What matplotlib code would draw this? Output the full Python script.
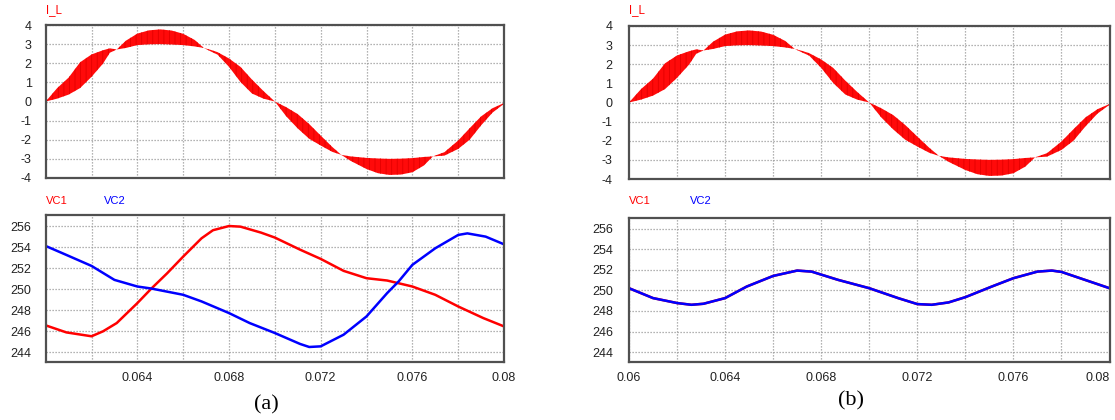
import numpy as np
import matplotlib
matplotlib.use("Agg")
import matplotlib.pyplot as plt

plt.rcParams['font.family'] = ['Liberation Sans', 'DejaVu Sans']
plt.rcParams['axes.unicode_minus'] = False
plt.rcParams['hatch.linewidth'] = 0.6

# ---------------- data ----------------
# Inductor current ripple band (upper / lower envelopes)
t_il = [0.0600, 0.0605, 0.0610, 0.0615, 0.0620, 0.0625, 0.0628, 0.0631, 0.0635,
        0.0640, 0.0645, 0.0650, 0.0655, 0.0660, 0.0665, 0.0669, 0.0672, 0.0675,
        0.0680, 0.0685, 0.0690, 0.0695, 0.0700, 0.0705, 0.0710, 0.0715, 0.0720,
        0.0725, 0.0729, 0.0733, 0.0740, 0.0745, 0.0750, 0.0755, 0.0760, 0.0765,
        0.0769, 0.0774, 0.0780, 0.0785, 0.0790, 0.0795, 0.0800]
il_upper = [0.00, 0.70, 1.25, 2.05, 2.46, 2.68, 2.78, 2.72, 3.18,
            3.55, 3.72, 3.77, 3.71, 3.54, 3.22, 2.80, 2.70, 2.58,
            2.25, 1.81, 1.15, 0.55, 0.00, -0.30, -0.66, -1.18, -1.78,
            -2.37, -2.79, -2.87, -2.95, -2.98, -3.00, -2.99, -2.96, -2.90,
            -2.87, -2.65, -2.04, -1.40, -0.78, -0.35, -0.08]
il_lower = [0.00, 0.15, 0.36, 0.70, 1.29, 1.98, 2.55, 2.72, 2.80,
            2.95, 2.99, 3.00, 2.98, 2.95, 2.88, 2.80, 2.62, 2.45,
            1.81, 1.02, 0.42, 0.15, 0.00, -0.78, -1.41, -1.95, -2.30,
            -2.63, -2.79, -3.10, -3.53, -3.75, -3.84, -3.82, -3.70, -3.35,
            -2.87, -2.83, -2.48, -2.00, -1.25, -0.58, -0.12]

# (a) capacitor voltages
t_vc1_a = [0.0600, 0.0609, 0.0620, 0.0625, 0.0631, 0.0640, 0.0646, 0.0653, 0.0660,
           0.0668, 0.0673, 0.0680, 0.0685, 0.0694, 0.0700, 0.0711, 0.0720, 0.0730,
           0.0740, 0.0749, 0.0760, 0.0770, 0.0780, 0.0791, 0.0800]
vc1_a = [246.54, 245.87, 245.50, 245.97, 246.76, 248.66, 250.02, 251.50, 253.09,
         254.83, 255.60, 256.00, 255.94, 255.37, 254.90, 253.75, 252.87, 251.73,
         251.03, 250.81, 250.24, 249.45, 248.34, 247.23, 246.44]
t_vc2_a = [0.0600, 0.0609, 0.0620, 0.0630, 0.0640, 0.0646, 0.0660, 0.0668, 0.0680,
           0.0689, 0.0700, 0.0711, 0.0715, 0.0720, 0.0730, 0.0740, 0.0749, 0.0754,
           0.0760, 0.0770, 0.0780, 0.0784, 0.0792, 0.0800]
vc2_a = [254.10, 253.25, 252.20, 250.87, 250.24, 250.05, 249.45, 248.82, 247.71,
         246.76, 245.81, 244.77, 244.48, 244.54, 245.65, 247.39, 249.61, 250.72,
         252.30, 253.88, 255.15, 255.30, 254.99, 254.26]

# (b) capacitor voltages (VC1 and VC2 coincide)
t_vc_b = [0.0600, 0.0610, 0.0620, 0.0626, 0.0631, 0.0640, 0.0649, 0.0660, 0.0670,
          0.0676, 0.0687, 0.0700, 0.0712, 0.0720, 0.0726, 0.0733, 0.0740, 0.0751,
          0.0760, 0.0770, 0.0776, 0.0780, 0.0789, 0.0800]
vc1_b = [250.21, 249.25, 248.77, 248.60, 248.70, 249.25, 250.37, 251.40, 251.92,
         251.82, 251.02, 250.21, 249.25, 248.67, 248.60, 248.83, 249.34, 250.37,
         251.18, 251.82, 251.92, 251.79, 251.08, 250.21]
vc2_b = [250.21, 249.25, 248.77, 248.60, 248.70, 249.25, 250.37, 251.40, 251.92,
         251.82, 251.02, 250.21, 249.25, 248.67, 248.60, 248.83, 249.34, 250.37,
         251.18, 251.82, 251.92, 251.79, 251.08, 250.21]

il_yticks = [4, 3, 2, 1, 0, -1, -2, -3, -4]
vc_yticks = [256, 254, 252, 250, 248, 246, 244]
xticks_a = [0.064, 0.068, 0.072, 0.076, 0.08]
xlabels_a = ['0.064', '0.068', '0.072', '0.076', '0.08']
xticks_b = [0.06, 0.064, 0.068, 0.072, 0.076, 0.08]
xlabels_b = ['0.06', '0.064', '0.068', '0.072', '0.076', '0.08']
x_grid = [0.062, 0.064, 0.066, 0.068, 0.070, 0.072, 0.074, 0.076, 0.078]

# ---------------- figure ----------------
W, H = 1115, 420
fig = plt.figure(figsize=(W / 100, H / 100), dpi=100)

def box(l, t, r, b):
    return [l / W, 1 - b / H, (r - l) / W, (b - t) / H]

GRID = dict(color='#9a9a9a', linestyle=(0, (1, 1.4)), linewidth=0.9)
RED = '#ff0000'
BLUE = '#0000ff'

def style(ax, ylim, yticks, ypad):
    ax.set_xlim(0.06, 0.08)
    ax.set_ylim(*ylim)
    ax.set_yticks(yticks)
    ax.set_yticklabels([str(v) for v in yticks])
    ax.set_xticks(x_grid, minor=True)
    ax.grid(True, which='both', **GRID)
    ax.tick_params(which='both', length=0, labelsize=9, colors='#222222')
    ax.tick_params(axis='y', pad=ypad)
    ax.tick_params(axis='x', pad=7.5)
    for s in ax.spines.values():
        s.set_color('#505050')
        s.set_linewidth(1.6)
    ax.set_axisbelow(True)

def top_panel(rect, ypad):
    ax = fig.add_axes(rect)
    style(ax, (-4, 4), il_yticks, ypad)
    ax.set_xticks([])
    ax.set_xticks(x_grid, minor=True)
    ax.fill_between(t_il, il_lower, il_upper, facecolor='#ff0a0a',
                    edgecolor='#e40000', hatch='|||', linewidth=0)
    return ax

def bottom_panel(rect, ypad, xt, xl, v1, v2, t1, t2):
    ax = fig.add_axes(rect)
    style(ax, (243.05, 257.05), vc_yticks, ypad)
    ax.set_xticks(xt)
    ax.set_xticklabels(xl)
    ax.plot(t1, v1, color=RED, lw=1.8, solid_capstyle='butt')
    ax.plot(t2, v2, color=BLUE, lw=1.8, solid_capstyle='butt')
    return ax

# (a)
axa1 = top_panel(box(45.7, 25, 504, 178), 10)
axa2 = bottom_panel(box(45.7, 215, 504, 362), 10.5, xticks_a, xlabels_a,
                    vc1_a, vc2_a, t_vc1_a, t_vc2_a)
# (b)
axb1 = top_panel(box(629, 26, 1109.5, 179), 12)
axb2 = bottom_panel(box(629, 217.7, 1109.5, 362), 11.5, xticks_b, xlabels_b,
                    vc1_b, vc2_b, t_vc_b, t_vc_b)
lbls = axb2.get_xticklabels()
lbls[-1].set_horizontalalignment('right')

def ftext(x, y, s, **kw):
    fig.text(x / W, 1 - y / H, s, **kw)

ftext(46, 10, 'I_L', color=RED, fontsize=8.3, va='center')
ftext(629, 10, 'I_L', color=RED, fontsize=8.3, va='center')
ftext(46, 201, 'VC1', color=RED, fontsize=8, va='center')
ftext(104, 201, 'VC2', color=BLUE, fontsize=8, va='center')
ftext(629, 201, 'VC1', color=RED, fontsize=8, va='center')
ftext(690, 201, 'VC2', color=BLUE, fontsize=8, va='center')

ftext(266, 405, '(a)', fontsize=16, ha='center', va='center',
      family=['Liberation Serif', 'DejaVu Serif'])
ftext(851, 401, '(b)', fontsize=16, ha='center', va='center',
      family=['Liberation Serif', 'DejaVu Serif'])

fig.savefig('out.png', dpi=100)
